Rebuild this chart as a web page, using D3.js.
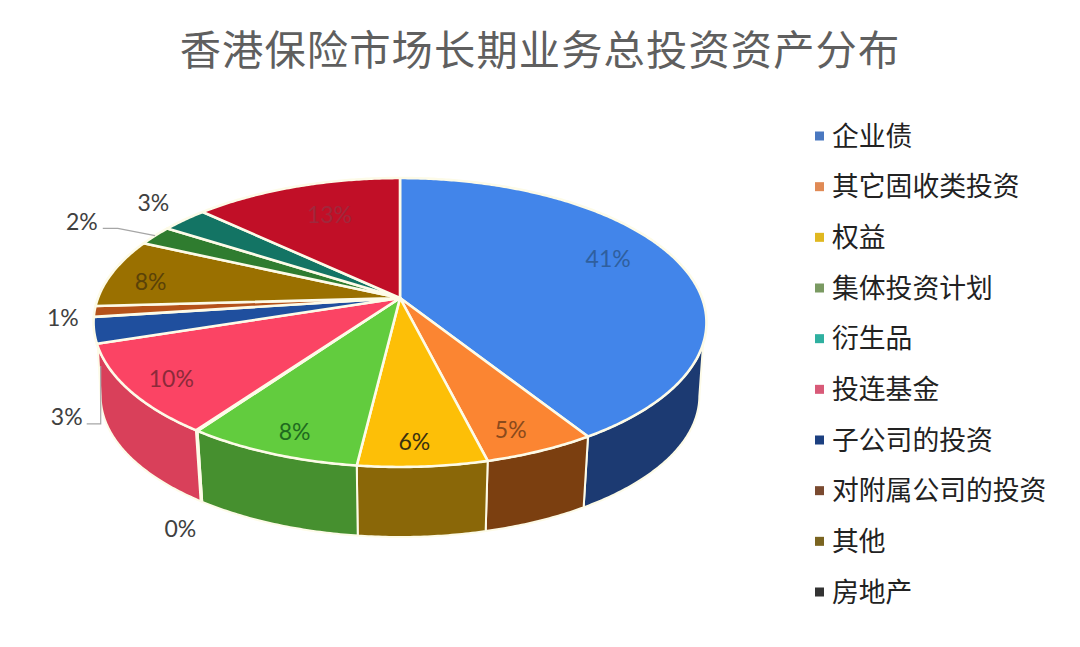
<!DOCTYPE html>
<html>
<head>
<meta charset="utf-8">
<script src="https://cdn.jsdelivr.net/npm/d3@7"></script>
<style>
  html, body { margin: 0; padding: 0; background: #fff; }
  svg { display: block; }
  text { font-family: "Noto Sans CJK SC", "Noto Sans", sans-serif; }
  .pct { font-family: Lato, "Open Sans", sans-serif; font-size: 23px; }
</style>
</head>
<body>
<svg id="chart" width="1080" height="647"></svg>
<script>
const title = '香港保险市场长期业务总投资资产分布';
// the legend only lists ten names, the chart has twelve slices
const legendNames = ['企业债', '其它固收类投资', '权益', '集体投资计划', '衍生品', '投连基金', '子公司的投资', '对附属公司的投资', '其他', '房地产'];
const legendColors = ['#4a78c0', '#e08a55', '#e0b820', '#7a9a62', '#2fb0a0', '#d85a78', '#1c4080', '#7a4a30', '#7a6420', '#333333'];

const sliceValues = [41.05, 5.05, 5.8, 7.9, 0.1, 10.1, 2.9, 1.2, 7.75, 2.25, 2.9, 13];
const topColors = ['#4285ea', '#fb8532', '#fdbf07', '#62cc3e', '#22b5a5', '#fb4464', '#1f4f9e', '#b5521a', '#9a7000', '#2f7c2f', '#137464', '#c10f27'];
const sideColors = ['#1c3a72', '#7b3f10', '#8a6708', '#46902f', '#128070', '#d9405a', '#163a74', '#7b3f10', '#6f5200', '#215a21', '#0d5448', '#8c0a1c'];
const labelColors = ['#2f5f9e', '#8a4a1c', '#3a3010', '#1f6a1f', '#404040', '#8b2a3a', '#404040', '#404040', '#5a4208', '#404040', '#404040', '#a0283c'];
// label shift from the slice centroid, in px
const labelShift = [[-2, -12], [10, 21], [-2, 23], [-13, 22], [-73, 134], [-31, 13], [-106, 94], [-109, 9], [-32, 2], [-131, -29], [-81, -36], [10, 2]];

const svg = d3.select('#chart');

// perspective disc: k tilts it, near edge gets bigger than far edge
const k = 0.1696;
const topX = d3.scaleLinear().domain([-1, 1]).range([400 - 302, 400 + 302]);
const topY = d3.scaleLinear().domain([-1, 1]).range([298 - 140.3, 298 + 140.3]);
const botX = d3.scaleLinear().domain([-1, 1]).range([400 - 295, 400 + 295]);
const botY = d3.scaleLinear().domain([-1, 1]).range([372 - 137, 372 + 137]);

const project = (sx, sy, a, r = 1) => {
  const u = r * Math.sin(a), v = -r * Math.cos(a), s = 1 / (1 - k * v);
  return [sx(u * s), sy(v * s)];
};
const arcAngles = (a0, a1) => {
  const n = Math.max(2, Math.ceil((a1 - a0) / 0.01));
  return d3.range(n + 1).map(i => a0 + (a1 - a0) * i / n);
};
const line = d3.line();
const rad = deg => deg * Math.PI / 180;

const slices = d3.pie().sort(null).value(d => d)(sliceValues);

// side walls: the wall leaves the rim a bit below the widest point,
// the lower edge runs on to the widest point of the base
const upperStart = rad(108), upperEnd = rad(251), lowerStart = rad(100), lowerEnd = rad(260);
svg.append('g').selectAll('path')
  .data(slices.filter(d => d.endAngle > upperStart && d.startAngle < upperEnd))
  .join('path')
  .attr('d', d => {
    const upper = arcAngles(Math.max(d.startAngle, upperStart), Math.min(d.endAngle, upperEnd))
      .map(a => project(topX, topY, a));
    const lo0 = d.startAngle < upperStart ? lowerStart : d.startAngle;
    const lo1 = d.endAngle > upperEnd ? lowerEnd : d.endAngle;
    const lower = arcAngles(lo0, lo1).reverse().map(a => project(botX, botY, a));
    return line(upper.concat(lower)) + 'Z';
  })
  .attr('fill', d => sideColors[d.index])
  .attr('stroke', '#fdfbe8')
  .attr('stroke-width', 2)
  .attr('stroke-linejoin', 'round');

// top face
svg.append('g').selectAll('path')
  .data(slices)
  .join('path')
  .attr('d', d => {
    const rim = arcAngles(d.startAngle, d.endAngle).map(a => project(topX, topY, a));
    return line([[topX(0), topY(0)]].concat(rim)) + 'Z';
  })
  .attr('fill', d => topColors[d.index])
  .attr('stroke', '#fdfbe8')
  .attr('stroke-width', 2.6)
  .attr('stroke-linejoin', 'round');

// data labels
const labelPos = d => {
  const p = project(topX, topY, (d.startAngle + d.endAngle) / 2, 0.75);
  return [p[0] + labelShift[d.index][0], p[1] + labelShift[d.index][1]];
};
svg.append('g').selectAll('text')
  .data(slices)
  .join('text')
  .attr('class', 'pct')
  .attr('x', d => labelPos(d)[0])
  .attr('y', d => labelPos(d)[1])
  .attr('text-anchor', 'middle')
  .attr('dominant-baseline', 'central')
  .attr('fill', d => labelColors[d.index])
  .text(d => Math.round(d.value) + '%');

// leader lines for 2% and the 3% next to the pink wall
const p2 = labelPos(slices[9]), p3 = labelPos(slices[6]);
const rim2 = project(topX, topY, (slices[9].startAngle + slices[9].endAngle) / 2);
svg.append('path')
  .attr('d', line([[p2[0] + 21, p2[1] + 7], [p2[0] + 36, p2[1] + 7], rim2]))
  .attr('fill', 'none').attr('stroke', '#a6a6a6').attr('stroke-width', 1.2);
svg.append('path')
  .attr('d', line([[p3[0] + 20, p3[1] + 8], [p3[0] + 34, p3[1] + 8], [p3[0] + 34, p3[1] - 50]]))
  .attr('fill', 'none').attr('stroke', '#a6a6a6').attr('stroke-width', 1.2);

// title
svg.append('text')
  .attr('x', 540).attr('y', 65)
  .attr('text-anchor', 'middle')
  .attr('font-size', 41.3)
  .attr('letter-spacing', 1.1)
  .attr('fill', '#5f5f5f')
  .text(title);

// legend
const legendY = d3.scalePoint().domain(legendNames).range([136, 592]);
const legend = svg.append('g').selectAll('g')
  .data(legendNames)
  .join('g')
  .attr('transform', d => `translate(815,${legendY(d)})`);
legend.append('rect')
  .attr('y', -4.5).attr('width', 9).attr('height', 9)
  .attr('fill', (d, i) => legendColors[i]);
legend.append('text')
  .attr('x', 17)
  .attr('y', -2)
  .attr('dominant-baseline', 'central')
  .attr('font-size', 26.8)
  .attr('fill', '#222')
  .text(d => d);
</script>
</body>
</html>
